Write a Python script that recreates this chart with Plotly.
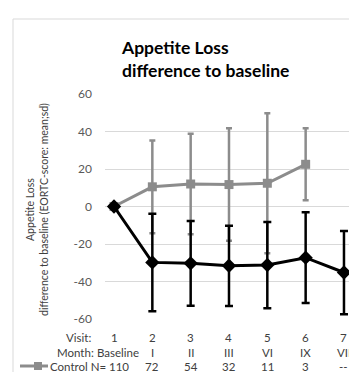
import plotly.graph_objects as go

visits = [1, 2, 3, 4, 5, 6, 7]
months = ["Baseline", "I", "II", "III", "VI", "IX", "VII"]
control_n = ["110", "72", "54", "32", "11", "3", "--"]

control_mean = [0, 10.5, 12.0, 11.7, 12.4, 22.5, None]
control_sd = [0, 24.7, 26.8, 30.0, 37.3, 19.2, None]

interv_mean = [0, -29.8, -30.3, -31.6, -31.2, -27.3, -35.2]
interv_sd = [0, 26.0, 22.6, 21.4, 23.0, 24.2, 22.2]

yticks = [-60, -40, -20, 0, 20, 40, 60]

FONT = "Lato"
OFF = 8  # page body margin
W, H = 357 - OFF, 372 - OFF
L, R, T, B = 105 - OFF, 7, 94 - OFF, 53
pw, ph = W - L - R, H - T - B

def px_x(px):
    return (px - OFF - L) / pw

def px_y(py):
    return (OFF + H - B - py) / ph

fig = go.Figure()
fig.add_trace(go.Scatter(
    x=visits, y=control_mean, mode="lines+markers", name="Control",
    line=dict(color="#8c8c8c", width=3),
    marker=dict(symbol="square", size=9, color="#8c8c8c"),
    error_y=dict(type="data", array=control_sd, visible=True, color="#8c8c8c", thickness=2.5, width=3),
    showlegend=False,
))
fig.add_trace(go.Scatter(
    x=visits, y=interv_mean, mode="lines+markers", name="Intervention",
    line=dict(color="#000000", width=3),
    marker=dict(symbol="diamond", size=11, color="#000000"),
    error_y=dict(type="data", array=interv_sd, visible=True, color="#000000", thickness=2.5, width=4),
    showlegend=False,
))

ann = []
ann.append(dict(xref="paper", yref="paper", x=px_x(119), y=px_y(35), xanchor="left", yanchor="top",
                text="<b>Appetite Loss<br>difference to baseline</b>", align="left", showarrow=False,
                font=dict(family=FONT, size=17.5, color="#000000")))
ann.append(dict(xref="paper", yref="paper", x=px_x(37), y=px_y(210), xanchor="center", yanchor="middle",
                text="Appetite Loss<br>difference to baseline (EORTC-score: mean;sd)", textangle=-90,
                showarrow=False, font=dict(family=FONT, size=10.5, color="#404040")))

row_y = {"visit": 337, "month": 352, "n": 366}
ann.append(dict(xref="paper", yref="paper", x=px_x(93), y=px_y(row_y["visit"]), xanchor="right", yanchor="middle",
                text="Visit:", showarrow=False, font=dict(family=FONT, size=11.5, color="#404040")))
ann.append(dict(xref="paper", yref="paper", x=px_x(96), y=px_y(row_y["month"]), xanchor="right", yanchor="middle",
                text="Month:", showarrow=False, font=dict(family=FONT, size=11.5, color="#404040")))
ann.append(dict(xref="paper", yref="paper", x=px_x(48), y=px_y(row_y["n"]), xanchor="left", yanchor="middle",
                text="Control N=", showarrow=False, font=dict(family=FONT, size=11.5, color="#404040")))
for v, m, n in zip(visits, months, control_n):
    ann.append(dict(xref="x", yref="paper", x=v, y=px_y(row_y["visit"]), xanchor="center", yanchor="middle",
                    text=str(v), showarrow=False, font=dict(family=FONT, size=11.5, color="#404040")))
    ann.append(dict(xref="x", yref="paper", x=v + (0.1 if m == "Baseline" else 0), y=px_y(row_y["month"]),
                    xanchor="center", yanchor="middle",
                    text=m, showarrow=False, font=dict(family=FONT, size=11.5, color="#404040")))
    ann.append(dict(xref="x", yref="paper", x=v + (0.14 if n == "110" else 0), y=px_y(row_y["n"]),
                    xanchor="center", yanchor="middle",
                    text=n, showarrow=False, font=dict(family=FONT, size=11.5, color="#404040")))

shapes = [
    dict(type="rect", xref="paper", yref="paper", x0=px_x(13), x1=px_x(400), y0=px_y(420), y1=px_y(19),
         line=dict(color="#d9d9d9", width=1), fillcolor="rgba(0,0,0,0)", layer="below"),
    dict(type="line", xref="paper", yref="paper", x0=px_x(20), x1=px_x(48), y0=px_y(row_y["n"]), y1=px_y(row_y["n"]),
         line=dict(color="#8c8c8c", width=3)),
    dict(type="rect", xref="paper", yref="paper", x0=px_x(34), x1=px_x(42), y0=px_y(row_y["n"] + 4),
         y1=px_y(row_y["n"] - 4), line=dict(width=0), fillcolor="#8c8c8c"),
]

fig.update_layout(
    width=W, height=H,
    margin=dict(l=L, r=R, t=T, b=B),
    paper_bgcolor="white", plot_bgcolor="white",
    font=dict(family=FONT, color="#404040"),
    xaxis=dict(range=[0.765, 7.157], showticklabels=False, showgrid=False, zeroline=False, ticks=""),
    yaxis=dict(range=[-60, 60], tickvals=yticks, ticktext=[str(t) for t in yticks],
               showgrid=True, gridcolor="#d9d9d9", gridwidth=1, zeroline=False, ticks="",
               ticklabelstandoff=12, tickfont=dict(family=FONT, size=12, color="#595959")),
    annotations=ann, shapes=shapes,
)

fig.write_html("out.html")
